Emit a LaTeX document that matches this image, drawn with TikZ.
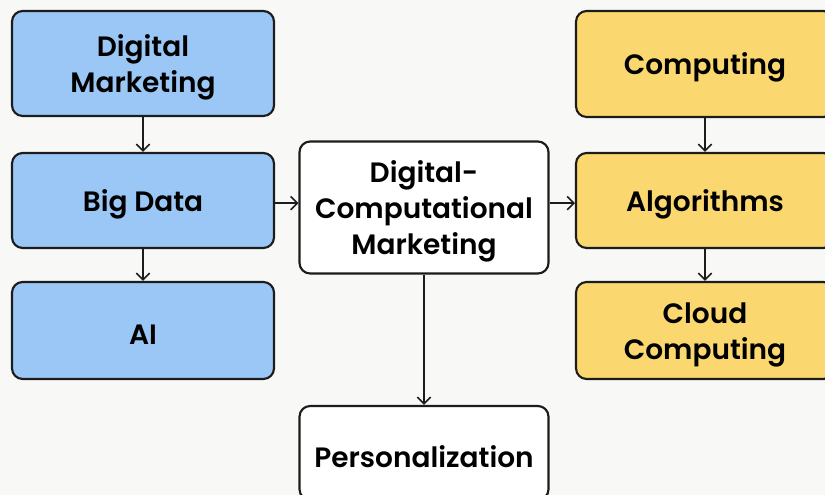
\documentclass[tikz,border=0pt]{standalone}
\usepackage{fontspec}
\IfFontExistsTF{Poppins SemiBold}{\setmainfont{Poppins SemiBold}}{\IfFontExistsTF{Poppins Medium}{\setmainfont{Poppins Medium}}{\setmainfont{Poppins}}}
\usetikzlibrary{arrows.meta}
\definecolor{bgc}{HTML}{F8F8F7}
\definecolor{blueb}{HTML}{9AC7F6}
\definecolor{yellb}{HTML}{FAD86F}
\definecolor{edge}{HTML}{1C1C1C}
% strut that lowers a label a little inside its box
\newcommand{\toproom}{\rule{0pt}{21.5pt}}
\begin{document}
\begin{tikzpicture}[x=0.75pt,y=-0.75pt,
  box/.style={draw=edge,line width=1.6pt,rounded corners=8pt,align=center,
    font=\fontsize{21}{27}\selectfont,text=black,inner sep=0pt,
    execute at begin node={\toproom}},
  bluebox/.style={box,fill=blueb},
  yellbox/.style={box,fill=yellb},
  whitebox/.style={box,fill=white},
  arr/.style={draw=edge,line width=1.2pt,-{Straight Barb[length=5pt,width=10pt]}}]
\useasboundingbox (0,0) rectangle (825,495);
\clip (0,0) rectangle (825,495);
\fill[bgc] (0,0) rectangle (825,495);
% left column
\node[bluebox,minimum width=196.5pt,minimum height=78.75pt] (dm) at (143,63.5) {\toproom Digital\\Marketing};
\node[bluebox,minimum width=196.5pt,minimum height=71.25pt] (bd) at (143,200.5) {Big Data};
\node[bluebox,minimum width=196.5pt,minimum height=72.75pt] (ai) at (143,330.5) {AI};
% middle column
\node[whitebox,minimum width=186.75pt,minimum height=99pt] (dcm) at (424,207.5) {\toproom Digital-\\Computational\\Marketing};
\node[whitebox,minimum width=186.75pt,minimum height=70.5pt] (pers) at (424,453) {Personalization};
% right column
\node[yellbox,minimum width=193.5pt,minimum height=79.5pt] (comp) at (705,64) {Computing};
\node[yellbox,minimum width=193.5pt,minimum height=71.25pt] (alg) at (705,200.5) {Algorithms};
\node[yellbox,minimum width=193.5pt,minimum height=72.75pt] (cloud) at (705,330.5) {\toproom Cloud\\Computing};
% connectors
\draw[arr] (dm) -- (bd);
\draw[arr] (bd) -- (ai);
\draw[arr] ([yshift=-2pt]bd.east) -- ([yshift=-2pt]dcm.west |- bd.east);
\draw[arr] ([yshift=-2pt]dcm.east |- alg.west) -- ([yshift=-2pt]alg.west);
\draw[arr] (comp) -- (alg);
\draw[arr] (alg) -- (cloud);
\draw[arr] (dcm) -- (pers);
\end{tikzpicture}
\end{document}
